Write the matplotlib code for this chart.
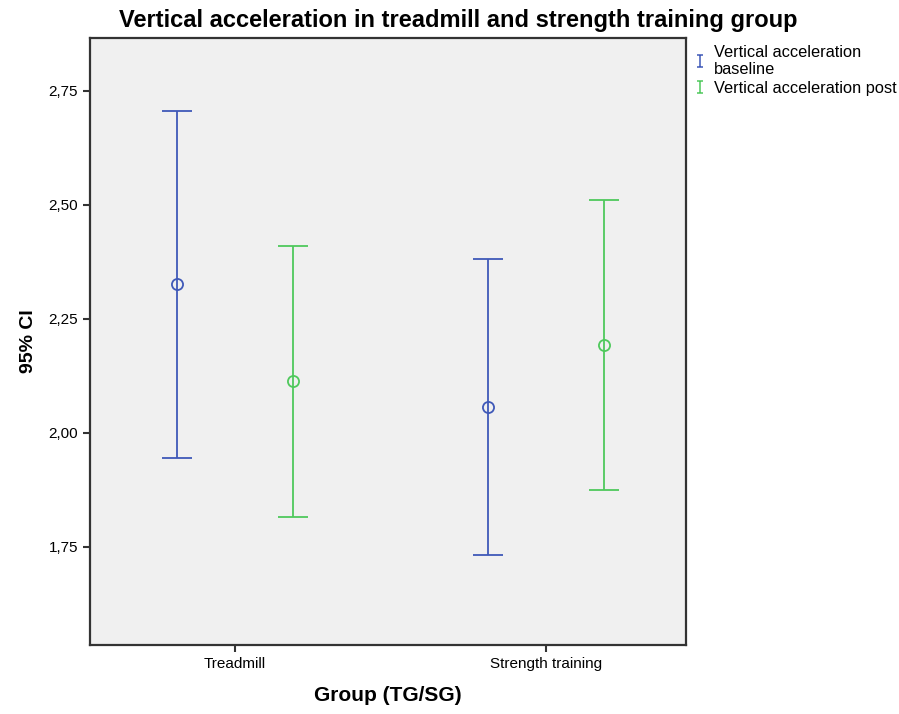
import numpy as np
import matplotlib
matplotlib.use("Agg")
import matplotlib.pyplot as plt
from matplotlib.lines import Line2D
from matplotlib.path import Path

plt.rcParams['font.family'] = ['Liberation Sans', 'DejaVu Sans']

groups = ["Treadmill", "Strength training"]
series = ["Vertical acceleration\nbaseline", "Vertical acceleration post"]
means = [[2.327, 2.057], [2.114, 2.193]]
lower = [[1.945, 1.732], [1.816, 1.875]]
upper = [[2.707, 2.382], [2.410, 2.511]]
colors = ["#3f59b8", "#4fc95c"]

fig = plt.figure(figsize=(8.99, 7.14), dpi=100)
ax = fig.add_axes([90 / 899, 1 - 645 / 714, 596 / 899, 607 / 714])
ax.set_facecolor("#f0f0f0")

# little "I" glyph for the legend
ibar = Path([(-0.5, -1), (0.5, -1), (0, -1), (0, 1), (-0.5, 1), (0.5, 1)],
            [Path.MOVETO, Path.LINETO, Path.MOVETO, Path.LINETO, Path.MOVETO, Path.LINETO])

x = np.array([235, 546])
offsets = [-58, 58]
handles = []
for i in range(2):
    m = np.array(means[i])
    lo = m - np.array(lower[i])
    hi = np.array(upper[i]) - m
    ax.errorbar(x + offsets[i], m, yerr=[lo, hi], fmt='o', mfc='none',
                mec=colors[i], ms=8, mew=1.3, ecolor=colors[i],
                elinewidth=1.3, capsize=10.5, capthick=1.3)
    handles.append(Line2D([0], [0], color=colors[i], marker=ibar, ms=8,
                          lw=0, mew=1.1))

ax.set_xlim(90, 686)
ax.set_ylim(1.535, 2.866)
ax.set_xticks(x)
ax.set_xticklabels(groups, fontsize=11)
yt = [1.75, 2.0, 2.25, 2.5, 2.75]
ax.set_yticks(yt)
ax.set_yticklabels([f"{v:.2f}".replace('.', ',') for v in yt], fontsize=11)
ax.tick_params(direction='out', length=5, width=1.5, color='#333333')
for s in ax.spines.values():
    s.set_linewidth(1.6)
    s.set_color('#333333')

ax.set_xlabel("Group (TG/SG)", fontsize=15, fontweight='bold', labelpad=11)
ax.set_ylabel("95% CI", fontsize=14, fontweight='bold', labelpad=8)
fig.suptitle("Vertical acceleration in treadmill and strength training group",
             x=458 / 899, y=1 - 9 / 714, va='top', fontsize=17, fontweight='bold')

fig.legend(handles, series, loc='upper left', bbox_to_anchor=(689 / 899, 1 - 38 / 714),
           frameon=False, fontsize=11.8, handlelength=0.6, handletextpad=0.55,
           labelspacing=0.25, borderaxespad=0)

fig.savefig("out.png", dpi=100)
